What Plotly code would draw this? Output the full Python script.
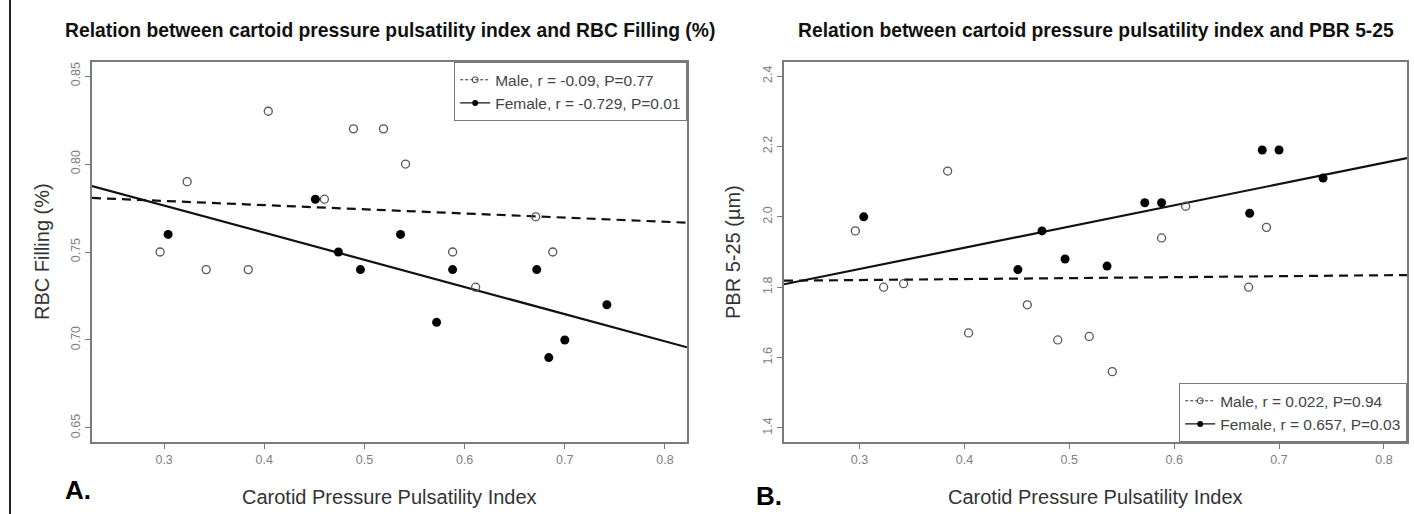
import numpy as np
import plotly.graph_objects as go

# ---------------- data ----------------
male_x = [0.296, 0.323, 0.342, 0.384, 0.404, 0.460, 0.489, 0.519, 0.541, 0.588, 0.611, 0.671, 0.688]
male_rbc = [0.75, 0.79, 0.74, 0.74, 0.83, 0.78, 0.82, 0.82, 0.80, 0.75, 0.73, 0.77, 0.75]
male_pbr = [1.96, 1.80, 1.81, 2.13, 1.67, 1.75, 1.65, 1.66, 1.56, 1.94, 2.03, 1.80, 1.97]

female_x = [0.304, 0.451, 0.474, 0.496, 0.536, 0.572, 0.588, 0.672, 0.684, 0.700, 0.742]
female_rbc = [0.76, 0.78, 0.75, 0.74, 0.76, 0.71, 0.74, 0.74, 0.69, 0.70, 0.72]
female_pbr = [2.00, 1.85, 1.96, 1.88, 1.86, 2.04, 2.04, 2.01, 2.19, 2.19, 2.11]

x_ticks = [0.3, 0.4, 0.5, 0.6, 0.7, 0.8]
rbc_ticks = [0.65, 0.70, 0.75, 0.80, 0.85]
pbr_ticks = [1.4, 1.6, 1.8, 2.0, 2.2, 2.4]

x_lim = [0.25, 0.80]
rbc_lim = [0.65, 0.85]
pbr_lim = [1.4, 2.4]

titles = ["Relation between cartoid pressure pulsatility index and RBC Filling (%)",
          "Relation between cartoid pressure pulsatility index and PBR 5-25"]
y_titles = ["RBC Filling (%)", "PBR 5-25 (\u00b5m)"]
x_title = "Carotid Pressure Pulsatility Index"
legend_left = ["Male, r = -0.09, P=0.77", "Female, r = -0.729, P=0.01"]
legend_right = ["Male, r = 0.022, P=0.94", "Female, r = 0.657, P=0.03"]
panel_tags = ["A.", "B."]


def r_range(lim):
    d = (lim[1] - lim[0]) * 0.04
    return [lim[0] - d, lim[1] + d]


X_RANGE = r_range(x_lim)

W, H = 1414, 514
FONT = "Liberation Sans, Arial, sans-serif"
AX_COL = "#7a7a7a"
TXT_COL = "#333333"

fig = go.Figure()

panels = [
    dict(xa="x", ya="y", yvals_m=male_rbc, yvals_f=female_rbc, leg="legend", labels=legend_left),
    dict(xa="x2", ya="y2", yvals_m=male_pbr, yvals_f=female_pbr, leg="legend2", labels=legend_right),
]

for p in panels:
    # fitted lines (computed from data)
    for xs, ys, dash in [(male_x, p["yvals_m"], "9px,6px"), (female_x, p["yvals_f"], "solid")]:
        b1, b0 = np.polyfit(xs, ys, 1)
        lx = np.array(X_RANGE)
        fig.add_trace(go.Scatter(x=lx, y=b0 + b1 * lx, mode="lines", xaxis=p["xa"], yaxis=p["ya"],
                                 line=dict(color="#111111", width=2.2, dash=dash),
                                 showlegend=False, hoverinfo="skip"))
    # points
    fig.add_trace(go.Scatter(x=male_x, y=p["yvals_m"], mode="markers", xaxis=p["xa"], yaxis=p["ya"],
                             marker=dict(symbol="circle-open", size=8, color="#555555", line=dict(width=1.3)),
                             showlegend=False))
    fig.add_trace(go.Scatter(x=female_x, y=p["yvals_f"], mode="markers", xaxis=p["xa"], yaxis=p["ya"],
                             marker=dict(symbol="circle", size=9, color="#000000"),
                             showlegend=False))
    # legend entries
    fig.add_trace(go.Scatter(x=[None], y=[None], mode="lines+markers", xaxis=p["xa"], yaxis=p["ya"],
                             name=p["labels"][0], legend=p["leg"],
                             line=dict(color="#333333", width=1, dash="3px,2px"),
                             marker=dict(symbol="circle-open", size=6, color="#444444")))
    fig.add_trace(go.Scatter(x=[None], y=[None], mode="lines+markers", xaxis=p["xa"], yaxis=p["ya"],
                             name=p["labels"][1], legend=p["leg"],
                             line=dict(color="#111111", width=1.2),
                             marker=dict(symbol="circle", size=6, color="#000000")))

# geometry (pixels -> paper)
L_DOM = [92 / W, 687 / W]
R_DOM = [784 / W, 1407 / W]
Y_DOM = [1 - 442 / H, 1 - 62 / H]

axis_common = dict(showgrid=False, zeroline=False, showline=True, mirror=True, linecolor=AX_COL,
                   linewidth=1.5, ticks="outside", ticklen=5, tickwidth=1, tickcolor=AX_COL,
                   tickfont=dict(family=FONT, size=12.5, color="#808080"))

LEG_FONT = dict(family=FONT, size=15.5, color="#444444")

fig.update_layout(
    width=W, height=H, margin=dict(l=0, r=0, t=0, b=0),
    paper_bgcolor="white", plot_bgcolor="white",
    font=dict(family=FONT, color=TXT_COL),
    xaxis=dict(domain=L_DOM, range=X_RANGE, tickvals=x_ticks, tickformat=".1f", anchor="y", **axis_common),
    yaxis=dict(domain=Y_DOM, range=r_range(rbc_lim), tickvals=rbc_ticks, tickformat=".2f", tickangle=-90,
               anchor="x", **axis_common),
    xaxis2=dict(domain=R_DOM, range=X_RANGE, tickvals=x_ticks, tickformat=".1f", anchor="y2", **axis_common),
    yaxis2=dict(domain=Y_DOM, range=r_range(pbr_lim), tickvals=pbr_ticks, tickformat=".1f", tickangle=-90,
                anchor="x2", **axis_common),
    legend=dict(x=L_DOM[1], y=Y_DOM[1], xanchor="right", yanchor="top", bgcolor="white",
                bordercolor=AX_COL, borderwidth=1.2, font=LEG_FONT, itemwidth=30, tracegroupgap=0),
    legend2=dict(x=R_DOM[1], y=Y_DOM[0], xanchor="right", yanchor="bottom", bgcolor="white",
                 bordercolor=AX_COL, borderwidth=1.2, font=LEG_FONT, itemwidth=30, tracegroupgap=0),
    showlegend=True,
)

ann = []
for dom, t in zip([L_DOM, R_DOM], titles):
    ann.append(dict(text="<b>" + t + "</b>", x=(dom[0] + dom[1]) / 2, y=1 - 30 / H, xref="paper", yref="paper",
                    showarrow=False, xanchor="center", yanchor="middle",
                    font=dict(family=FONT, size=19.3, color="#111111")))
for dom, t in zip([L_DOM, R_DOM], [x_title, x_title]):
    ann.append(dict(text=t, x=(dom[0] + dom[1]) / 2, y=1 - 497 / H, xref="paper", yref="paper",
                    showarrow=False, xanchor="center", yanchor="middle",
                    font=dict(family=FONT, size=20, color="#333333")))
for xpix, t in zip([42, 733], y_titles):
    ann.append(dict(text=t, x=xpix / W, y=(Y_DOM[0] + Y_DOM[1]) / 2, xref="paper", yref="paper",
                    showarrow=False, xanchor="center", yanchor="middle", textangle=-90,
                    font=dict(family=FONT, size=20, color="#333333")))
for xpix, ypix, t in zip([78, 769], [490, 496], panel_tags):
    ann.append(dict(text="<b>" + t + "</b>", x=xpix / W, y=1 - ypix / H, xref="paper", yref="paper",
                    showarrow=False, xanchor="center", yanchor="middle",
                    font=dict(family=FONT, size=26, color="#000000")))
fig.update_layout(annotations=ann)

# outer frame line on the left
fig.add_shape(type="line", xref="paper", yref="paper", x0=10 / W, x1=10 / W, y0=0, y1=1,
              line=dict(color="#222222", width=2))

fig.write_html("out.html", config={"displayModeBar": False},
               post_script="document.body.style.margin='0';document.body.style.overflow='hidden';")
